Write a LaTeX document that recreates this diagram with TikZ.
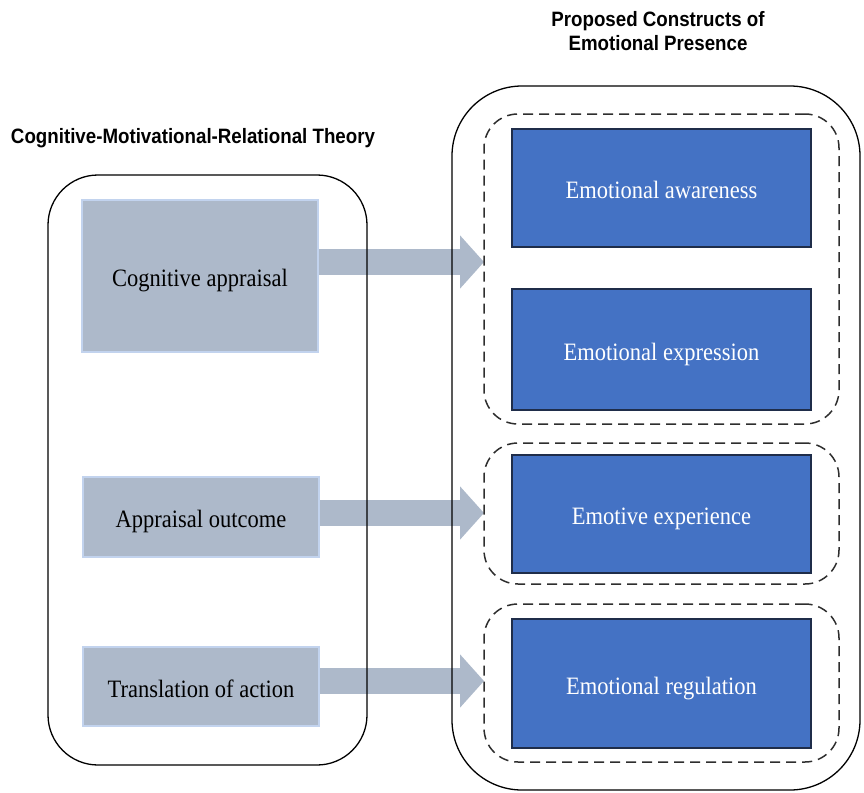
\documentclass[tikz,border=0pt]{standalone}
\usepackage{fontspec}
\setmainfont{Liberation Serif}
\setsansfont{Liberation Sans}
\usetikzlibrary{arrows.meta,backgrounds}
\definecolor{grayfill}{HTML}{ADB9CA}
\definecolor{grayedge}{HTML}{C2D3EE}
\definecolor{bluefill}{HTML}{4472C4}
\definecolor{blueedge}{HTML}{1F2D4A}
\definecolor{dashcol}{HTML}{2E2E2E}
\newcommand{\sqz}[1]{\scalebox{0.9}[1]{#1}}
\begin{document}
\begin{tikzpicture}[x=1pt,y=-1pt,
  outerbox/.style={draw=black,line width=1.3pt,rounded corners=#1,inner sep=0pt,outer sep=0pt},
  groupbox/.style={draw=dashcol,line width=1.5pt,dash pattern=on 10pt off 6pt,rounded corners=34pt,inner sep=0pt,outer sep=0pt,minimum width=355pt},
  graybox/.style={fill=grayfill,draw=grayedge,line width=1.2pt,minimum width=236pt,inner sep=0pt,outer sep=0pt,font=\fontsize{25}{30}\selectfont,text=black,text height=21pt,text depth=0pt},
  bluebox/.style={fill=bluefill,draw=blueedge,line width=1.2pt,minimum width=299pt,inner sep=0pt,outer sep=0pt,font=\fontsize{25}{30}\selectfont,text=white,text height=21pt,text depth=0pt},
  titlefont/.style={font=\sffamily\bfseries\fontsize{20.8}{24}\selectfont,inner sep=0pt},
  fatarrow/.style={draw=grayfill,line width=26pt,-{Triangle[length=24pt,width=52pt]}}
]
\useasboundingbox (0,0) rectangle (864,792);

% titles
\node[titlefont,anchor=base] (ttl) at (658,27) {\sqz{\begin{tabular}[t]{@{}c@{}}Proposed Constructs of\\Emotional Presence\end{tabular}}};
\node[titlefont,anchor=base] (cmr) at (193,143) {\sqz{Cognitive-Motivational-Relational Theory}};

% outer boxes
\node[outerbox=50pt,minimum width=319pt,minimum height=590pt] (L) at (207.5,470) {};
\node[outerbox=70pt,minimum width=408pt,minimum height=704pt] (R) at (656,438) {};

% left boxes
\node[graybox,minimum height=152pt] (g1) at (200,276) {\sqz{Cognitive appraisal}};
\node[graybox,minimum height=80pt] (g2) at (201,517) {\sqz{Appraisal outcome}};
\node[graybox,minimum height=79pt] (g3) at (201,686.5) {\sqz{Translation of action}};

% dashed groups
\node[groupbox,minimum height=310pt] (d1) at (661.5,269) {};
\node[groupbox,minimum height=141pt] (d2) at (661.5,513.5) {};
\node[groupbox,minimum height=158pt] (d3) at (661.5,683) {};

% blue boxes
\node[bluebox,minimum height=118pt] (b1) at (661.5,188) {\sqz{Emotional awareness}};
\node[bluebox,minimum height=121pt] (b2) at (661.5,349.5) {\sqz{Emotional expression}};
\node[bluebox,minimum height=118pt] (b3) at (661.5,514) {\sqz{Emotive experience}};
\node[bluebox,minimum height=129pt] (b4) at (661.5,683.5) {\sqz{Emotional regulation}};

% arrows
\coordinate (a1) at (0,262);
\coordinate (a2) at (0,513);
\coordinate (a3) at (0,681);
\begin{pgfonlayer}{background}
\draw[fatarrow] (g1.east |- a1) -- (d1.west |- a1);
\draw[fatarrow] (g2.east |- a2) -- (d2.west |- a2);
\draw[fatarrow] (g3.east |- a3) -- (d3.west |- a3);
\end{pgfonlayer}
\end{tikzpicture}
\end{document}
